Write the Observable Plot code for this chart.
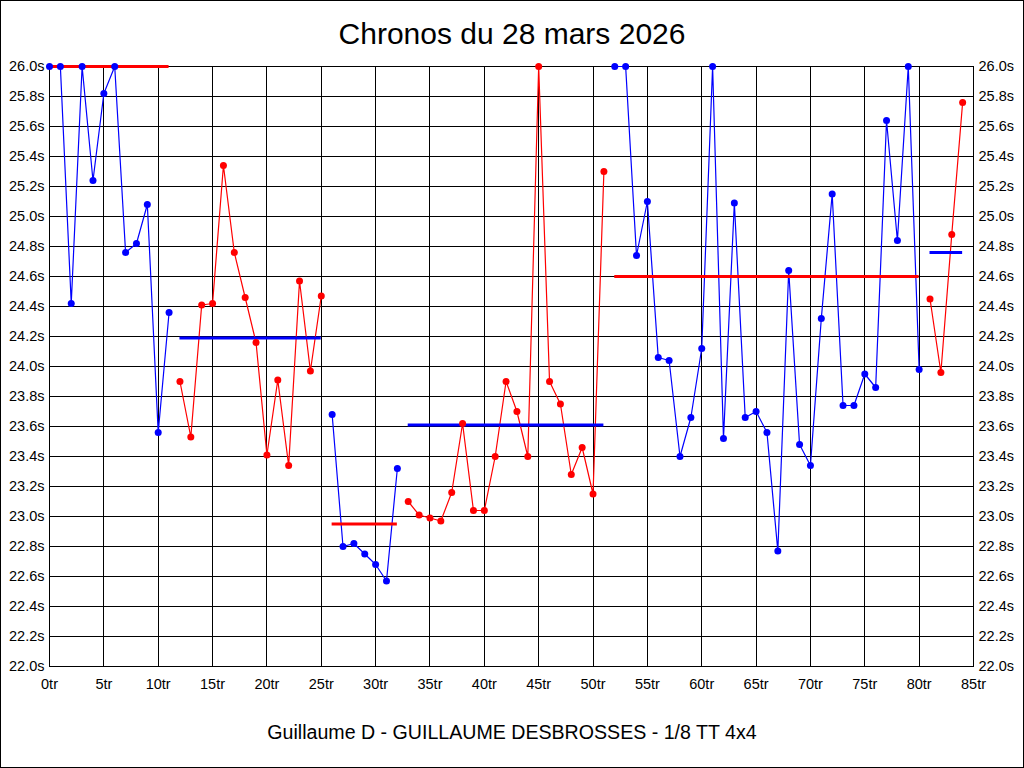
<!DOCTYPE html>
<html>
<head>
<meta charset="utf-8">
<script src="https://cdn.jsdelivr.net/npm/d3@7"></script>
<script src="https://cdn.jsdelivr.net/npm/@observablehq/plot@0.6"></script>
<style>
  html, body { margin: 0; padding: 0; background: #fff; }
  #wrap { position: relative; width: 1024px; height: 768px; overflow: hidden; background: #fff; }
  #chart { position: absolute; left: 0; top: 0; }
  #border { position: absolute; left: 0; top: 0; width: 1024px; height: 768px; box-sizing: border-box; border: 1px solid #000; pointer-events: none; }
  .title { position: absolute; left: 0; width: 1024px; text-align: center; font-family: "Liberation Sans", Arial, sans-serif; color: #000; white-space: nowrap; }
  #title { top: 18.6px; font-size: 30px; line-height: 30px; }
  #caption { top: 722.7px; font-size: 19.6px; line-height: 19.6px; }
</style>
</head>
<body>
<div id="wrap">
  <div id="chart"></div>
  <div id="title" class="title">Chronos du 28 mars 2026</div>
  <div id="caption" class="title">Guillaume D - GUILLAUME DESBROSSES - 1/8 TT 4x4</div>
  <div id="border"></div>
</div>
<script>
// Lap times in seconds (values above 26.0s are shown clipped at 26.0s)
const lapTimes = [
  26.0, 26.0, 24.42, 26.0, 25.24, 25.82, 26.0, 24.76, 24.82, 25.08,
  23.56, 24.36, 23.90, 23.53, 24.41, 24.42, 25.34, 24.76, 24.46, 24.16,
  23.41, 23.91, 23.34, 24.57, 23.97, 24.47, 23.68, 22.80, 22.82, 22.75,
  22.68, 22.57, 23.32, 23.10, 23.01, 22.99, 22.97, 23.16, 23.62, 23.04,
  23.04, 23.40, 23.90, 23.70, 23.40, 26.0, 23.90, 23.75, 23.28, 23.46,
  23.15, 25.30, 26.0, 26.0, 24.74, 25.10, 24.06, 24.04, 23.40, 23.66,
  24.12, 26.0, 23.52, 25.09, 23.66, 23.70, 23.56, 22.77, 24.64, 23.48,
  23.34, 24.32, 25.15, 23.74, 23.74, 23.95, 23.86, 25.64, 24.84, 26.0,
  23.98, 24.45, 23.96, 24.88, 25.76
];

// Runs (segments) of laps
const segStart  = [0, 12, 26, 33, 52, 81];
const segEnd    = [11, 25, 32, 51, 80, 84];
const segColor  = ["#0000ff", "#ff0000", "#0000ff", "#ff0000", "#0000ff", "#ff0000"];
const avgColor  = ["#ff0000", "#0000ff", "#ff0000", "#0000ff", "#ff0000", "#0000ff"];
const segAvg    = [26.0, 24.19, 22.95, 23.61, 24.60, 24.76];

// Axis ticks
const xTicks = [0, 5, 10, 15, 20, 25, 30, 35, 40, 45, 50, 55, 60, 65, 70, 75, 80, 85];
const yTicks = [22.0, 22.2, 22.4, 22.6, 22.8, 23.0, 23.2, 23.4, 23.6, 23.8, 24.0,
                24.2, 24.4, 24.6, 24.8, 25.0, 25.2, 25.4, 25.6, 25.8, 26.0];

// Build tables
const points = lapTimes.map((t, lap) => {
  const seg = segStart.findIndex((s, i) => lap >= s && lap <= segEnd[i]);
  return { lap, time: t, seg, color: segColor[seg] };
});
const segments = segStart.map((s, i) => ({ start: s, end: segEnd[i], avg: segAvg[i], color: avgColor[i] }));

const fmtY = d => d.toFixed(1) + "s";
const fmtX = d => d + "tr";

const chart = Plot.plot({
  width: 1024,
  height: 768,
  marginLeft: 49,
  marginRight: 51,
  marginTop: 66,
  marginBottom: 102,
  style: { fontFamily: '"Liberation Sans", Arial, sans-serif', fontSize: "14.5px", color: "#000", background: "transparent" },
  x: { domain: [0, 85] },
  y: { domain: [22, 26] },
  color: { type: "identity" },
  marks: [
    Plot.ruleX(xTicks, { stroke: "#000", strokeWidth: 1, shapeRendering: "crispEdges" }),
    Plot.ruleY(yTicks, { stroke: "#000", strokeWidth: 1, shapeRendering: "crispEdges" }),
    Plot.frame({ stroke: "#000", strokeWidth: 1, shapeRendering: "crispEdges" }),
    Plot.axisY({ anchor: "left", ticks: yTicks, tickFormat: fmtY, tickSize: 0, tickPadding: 5, label: null, fill: "#000" }),
    Plot.axisY({ anchor: "right", ticks: yTicks, tickFormat: fmtY, tickSize: 0, tickPadding: 5, label: null, fill: "#000" }),
    Plot.axisX({ ticks: xTicks, tickFormat: fmtX, tickSize: 0, tickPadding: 12, label: null, fill: "#000" }),
    Plot.line(points, { x: "lap", y: "time", z: "seg", stroke: "color", strokeWidth: 1.2 }),
    Plot.ruleY(segments, { y: "avg", x1: "start", x2: "end", stroke: "color", strokeWidth: 3 }),
    Plot.dot(points, { x: "lap", y: "time", fill: "color", r: 3.5, stroke: null })
  ]
});
document.getElementById("chart").appendChild(chart);
</script>
</body>
</html>
